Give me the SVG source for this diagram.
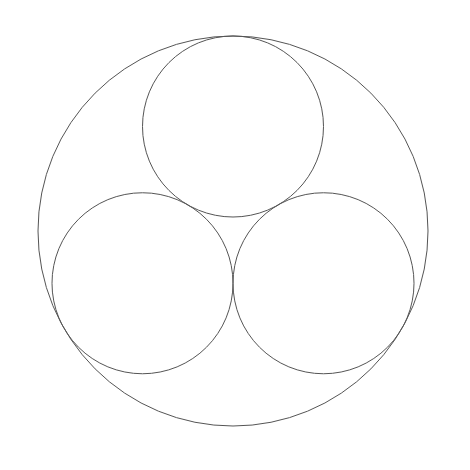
<svg xmlns="http://www.w3.org/2000/svg" width="470" height="470" viewBox="0 0 470 470">
<style>.c{fill:none;stroke:#555;stroke-width:1}</style>
<rect width="470" height="470" fill="#fff"/>
<g id="outer"><circle class="c" cx="233" cy="231" r="195"/></g>
<g id="top"><circle class="c" cx="233" cy="126.5" r="90.5"/></g>
<g id="left"><circle class="c" cx="142.5" cy="283.25" r="90.5"/></g>
<g id="right"><circle class="c" cx="323.5" cy="283.25" r="90.5"/></g>
<g id="connectors"></g>
</svg>
